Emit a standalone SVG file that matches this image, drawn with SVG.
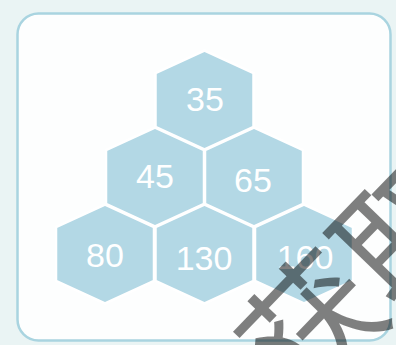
<svg xmlns="http://www.w3.org/2000/svg" width="396" height="345" viewBox="0 0 396 345">
<style>
.hex{fill:#b3d8e5;stroke:#ffffff;stroke-width:2.5;stroke-linejoin:miter}
.lbl{font-family:"Liberation Sans",Arial,sans-serif;font-size:34px;fill:#ffffff;text-anchor:middle}
.wm{font-family:"Noto Sans CJK SC","Noto Sans CJK JP",sans-serif;font-size:135px;fill:#000000;fill-opacity:0.5}
</style>
<defs>
<polygon id="hx" points="0,-49.5 49,-27 49,27 0,49.5 -49,27 -49,-27"/>
</defs>
<rect x="0" y="0" width="396" height="345" fill="#eaf4f4"/>
<rect x="17.5" y="13.5" width="373" height="327" rx="21" ry="21" fill="#fdfefe" stroke="#a9d4e0" stroke-width="2.5"/>
<g id="n35"><use href="#hx" class="hex" x="204.5" y="100"/><text class="lbl" x="205" y="111">35</text></g>
<g id="n45"><use href="#hx" class="hex" x="155" y="177"/><text class="lbl" x="155" y="188">45</text></g>
<g id="n65"><use href="#hx" class="hex" x="254" y="177"/><text class="lbl" x="253" y="192">65</text></g>
<g id="n80"><use href="#hx" class="hex" x="105" y="254"/><text class="lbl" x="105" y="267">80</text></g>
<g id="n130"><use href="#hx" class="hex" x="204.5" y="254"/><text class="lbl" x="204" y="270">130</text></g>
<g id="n160"><use href="#hx" class="hex" x="304" y="254"/><text class="lbl" x="305" y="269">160</text></g>
<g id="connectors"></g>
<text class="wm" transform="translate(301,409) rotate(-46)">获取</text>
</svg>
